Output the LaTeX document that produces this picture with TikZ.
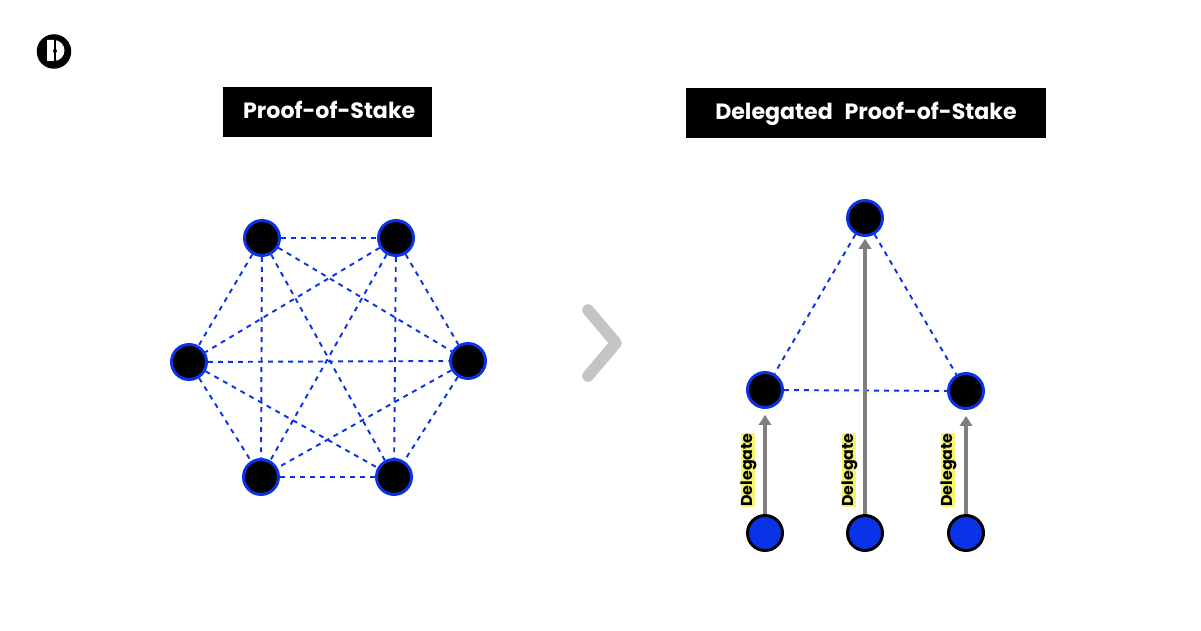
\documentclass[tikz,border=0pt]{standalone}
\usepackage{fontspec}
\setmainfont{Poppins}
\usepackage{xcolor}
\usetikzlibrary{arrows.meta,calc}
\definecolor{nodeblue}{HTML}{0A32E6}
\definecolor{arrowgray}{HTML}{7F7F7F}
\definecolor{chevrongray}{HTML}{C4C4C4}
\definecolor{labelyellow}{HTML}{F6F66A}

\begin{document}
\begin{tikzpicture}[
    x=0.02cm, y=-0.02cm,
    peer/.style={circle, draw=nodeblue, fill=black, line width=1.7pt, minimum size=0.7cm, inner sep=0pt},
    voter/.style={circle, draw=black, fill=nodeblue, line width=1.7pt, minimum size=0.7cm, inner sep=0pt},
    titlebox/.style={rectangle, fill=black, text=white, minimum height=1cm, inner sep=0pt, text height=8.5pt, text depth=1.5pt, font=\fontsize{12.6}{15}\selectfont\bfseries},
    link/.style={nodeblue, line width=1.1pt, dash pattern=on 2.8pt off 2.9pt},
    arrow/.style={-{Triangle[length=5.7pt,width=7pt]}, arrowgray, line width=2.2pt},
    delegate/.style={rotate=90, fill=labelyellow, inner sep=0.2pt, text height=6.4pt, text depth=1.6pt, font=\fontsize{9}{10}\selectfont\bfseries}
]
\useasboundingbox (0,0) rectangle (1201,631);

\node[titlebox, minimum width=4.18cm] (title1) at (327.5,112) {\hspace*{2pt}Proof-of-Stake};
\node[titlebox, minimum width=7.2cm] (title2) at (866,113) {Delegated \hspace{4pt}Proof-of-Stake};

\foreach \n/\x/\y in {a/262/238, b/396/238, c/189/362, d/468/361, e/261/477, f/394/477} {
    \node[peer] (\n) at (\x,\y) {};
}
\foreach \s/\t in {a/b, a/c, a/d, a/e, a/f, b/c, b/d, b/e, b/f, c/d, c/e, c/f, d/e, d/f, e/f} {
    \draw[link] (\s) -- (\t);
}

\node[peer] (top) at (865,218) {};
\node[peer] (left) at (765,390) {};
\node[peer] (right) at (966,391) {};
\draw[link] (top) -- (left);
\draw[link] (top) -- (right);
\draw[link] (left) -- (right);

\foreach \v/\x/\p/\lx/\gap in {1/765/left/748/3.4pt, 2/865/top/849/1pt, 3/966/right/948/3.4pt} {
    \node[voter] (v\v) at (\x,533) {};
    \draw[arrow, shorten >=\gap] (v\v) -- (\p);
    \node[delegate] (d\v) at (\lx,470) {Delegate};
}

\draw[chevrongray, line width=6.6pt, line cap=round, line join=round] (588,310) -- (616,343) -- (588,376);

\node[circle, fill=black, minimum size=0.69cm, inner sep=0pt] (logo) at (54,51.5) {};
\fill[white] (47,40) -- (54,40) arc[start angle=-90, end angle=90, radius=10.5] -- (47,61) -- cycle;
\fill[black] (53.5,40) rectangle (55.5,61);
\fill[black] (55,51) circle (2);
\end{tikzpicture}
\end{document}
